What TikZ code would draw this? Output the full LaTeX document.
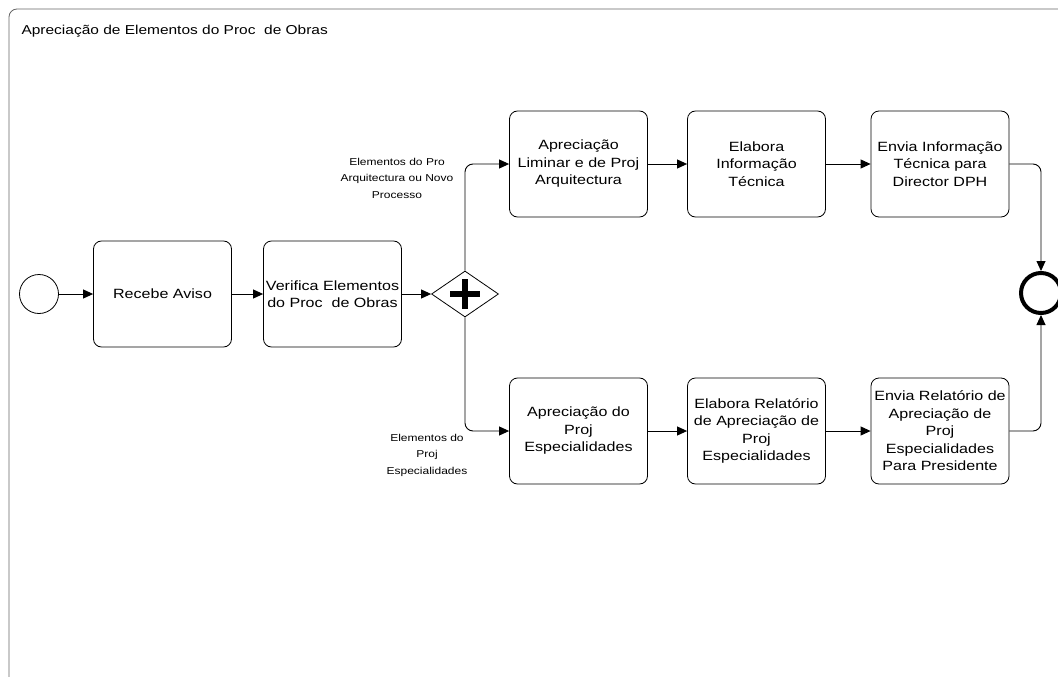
\documentclass[tikz,border=0pt]{standalone}
\usepackage{fontspec}
\setmainfont[FakeStretch=1.2]{Liberation Sans}
\usetikzlibrary{arrows.meta,shapes.geometric}
\begin{document}
\begin{tikzpicture}[x=1pt,y=-1pt,
  task/.style={draw,line width=0.8pt,rounded corners=8pt,minimum width=138pt,minimum height=106pt,align=center,font=\fontsize{13.4}{17.5}\selectfont,inner sep=2pt},
  flow/.style={line width=0.9pt,rounded corners=8pt,-{Triangle[length=10pt,width=9pt]}},
  lbl/.style={align=center,font=\fontsize{10}{16.5}\selectfont}]
\clip (0,0) rectangle (1058,677);
\fill[white] (0,0) rectangle (1058,677);
% pool frame
\draw[gray!80!black,line width=0.8pt,rounded corners=8pt] (9,9) rectangle (1080,700);
\node[anchor=west,font=\fontsize{12.9}{14}\selectfont] (title) at (18,31) {Apreciação de Elementos do Proc\ \ de Obras};
% start event
\node[draw,circle,line width=0.8pt,minimum size=39pt,inner sep=0pt] (start) at (39,294) {};
% tasks
\node[task] (recebe) at (162.5,294) {Recebe Aviso};
\node[task] (verifica) at (332.5,294) {Verifica Elementos\\do Proc\ \ de Obras};
% parallel gateway
\node[draw,diamond,line width=0.8pt,minimum width=67pt,minimum height=46pt,inner sep=0pt] (gw) at (465,294) {};
\fill (gw.center) ++(-15,-3) rectangle ++(30,6);
\fill (gw.center) ++(-3,-15) rectangle ++(6,30);
% upper branch
\node[task] (a1) at (578.5,164) {Apreciação\\Liminar e de Proj\\Arquitectura};
\node[task] (a2) at (756.5,164) {Elabora\\Informação\\Técnica};
\node[task] (a3) at (940,164) {Envia Informação\\Técnica para\\Director DPH};
% lower branch
\node[task] (b1) at (578.5,431) {Apreciação do\\Proj\\Especialidades};
\node[task] (b2) at (756.5,431) {Elabora Relatório\\de Apreciação de\\Proj\\Especialidades};
\node[task] (b3) at (940,431) {Envia Relatório de\\Apreciação de\\Proj\\Especialidades\\Para Presidente};
% end event
\node[draw,circle,line width=4pt,minimum size=40pt,inner sep=0pt] (end) at (1041,293) {};
% sequence flows
\draw[flow] (start) -- (recebe);
\draw[flow] (recebe) -- (verifica);
\draw[flow] (verifica) -- (gw.west);
\draw[flow] (gw.north) |- (a1.west);
\draw[flow] (gw.south) |- (b1.west);
\draw[flow] (a1) -- (a2);
\draw[flow] (a2) -- (a3);
\draw[flow] (b1) -- (b2);
\draw[flow] (b2) -- (b3);
\draw[flow] (a3.east) -| (end.north);
\draw[flow] (b3.east) -| (end.south);
% flow labels
\node[lbl] (la) at (397,178) {Elementos do Pro\\Arquitectura ou Novo\\Processo};
\node[lbl] (lb) at (427,455) {Elementos do\\Proj\\Especialidades};
\end{tikzpicture}
\end{document}
